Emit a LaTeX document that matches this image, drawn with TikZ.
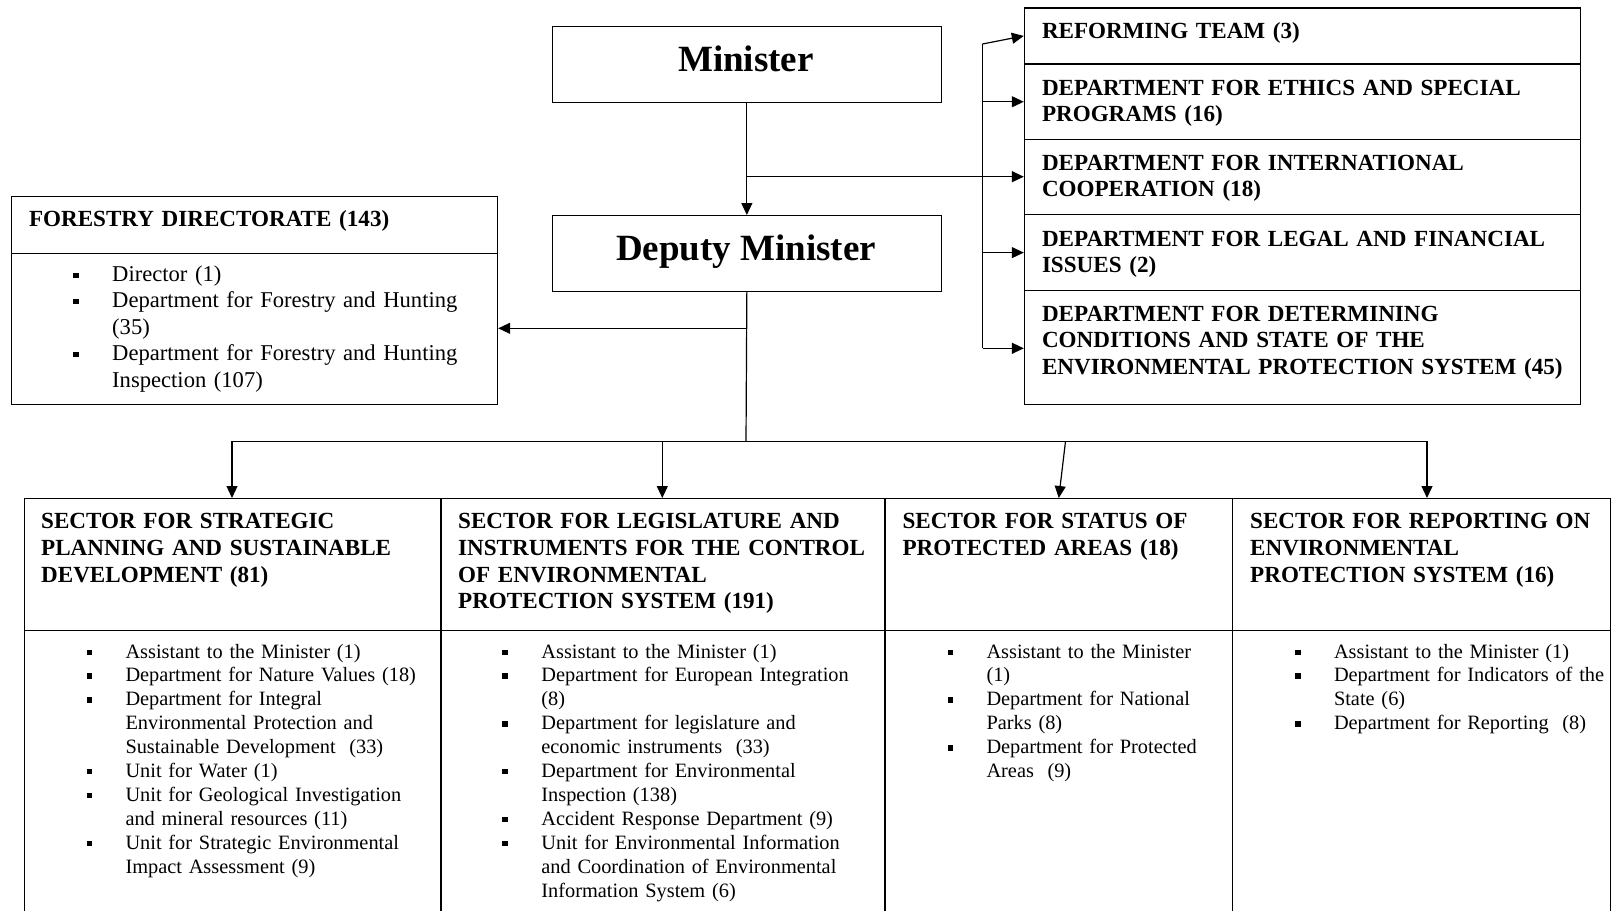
\documentclass[tikz,border=0pt]{standalone}
\usepackage{fontspec}
\setmainfont{Liberation Serif}
\usetikzlibrary{arrows.meta}
\newcommand\sqb{\raisebox{3.3pt}{\rule{5.5pt}{5.2pt}}}
\newcommand\bul{\llap{\sqb\hspace{33.5pt}}}
\newcommand\itm{\par\noindent\bul}
\begin{document}
\begin{tikzpicture}[x=1pt,y=-1pt,
  box/.style={draw, line width=1.2pt, rectangle, inner sep=0pt, anchor=north west},
  ln/.style={line width=1.2pt},
  arr/.style={line width=1.2pt, -{Triangle[length=12pt,width=11pt]}},
  hd/.style={anchor=base west, inner sep=0pt, align=left, text width=#1pt,
    font=\bfseries\fontsize{23.1}{26.7}\selectfont},
  lsbig/.style={anchor=base west, inner sep=0pt, align=left, text width=#1pt,
    font=\fontsize{22.6}{26.5}\selectfont},
  lssmall/.style={anchor=base west, inner sep=0pt, align=left, text width=#1pt,
    font=\fontsize{20.35}{23.95}\selectfont},
  big/.style={anchor=base, inner sep=0pt, font=\bfseries\fontsize{37}{44}\selectfont}
]
\useasboundingbox (0,0) rectangle (1611,910);
\clip (0,0) rectangle (1611,910);

% Minister and deputy
\node[box, minimum width=388.5pt, minimum height=75.7pt] (min) at (552,26) {};
\node[big] (mint) at (746,71) {Minister};
\node[box, minimum width=388.5pt, minimum height=75.7pt] (dep) at (552,215) {};
\node[big] (dept) at (746,260) {Deputy Minister};

% Forestry directorate
\node[box, minimum width=486.3pt, minimum height=56.7pt] (forhd) at (10.7,196) {};
\node[box, minimum width=486.3pt, minimum height=151pt] (forbd) at (10.7,252.7) {};
\node[hd=460] (forhdt) at (28.8,226.8) {FORESTRY DIRECTORATE (143)};
\node[lsbig=375] (forbdt) at (112,281) {%
\bul Director (1)
\itm Department for Forestry and Hunting\\(35)
\itm Department for Forestry and Hunting\\Inspection (107)};

% Right column
\node[box, minimum width=556.2pt, minimum height=56pt] (ref) at (1023.8,7.3) {};
\node[box, minimum width=556.2pt, minimum height=75.7pt] (eth) at (1023.8,63.3) {};
\node[box, minimum width=556.2pt, minimum height=75pt] (int) at (1023.8,139) {};
\node[box, minimum width=556.2pt, minimum height=76pt] (leg) at (1023.8,214) {};
\node[box, minimum width=556.2pt, minimum height=114pt] (det) at (1023.8,290) {};
\node[hd=530] (reft) at (1041.8,38.5) {REFORMING TEAM (3)};
\node[hd=530] (etht) at (1041.8,95) {DEPARTMENT FOR ETHICS AND SPECIAL\\PROGRAMS (16)};
\node[hd=530] (intt) at (1041.8,170) {DEPARTMENT FOR INTERNATIONAL\\COOPERATION (18)};
\node[hd=530] (legt) at (1041.8,246) {DEPARTMENT FOR LEGAL AND FINANCIAL\\ISSUES (2)};
\node[hd=530] (dett) at (1041.8,321) {DEPARTMENT FOR DETERMINING\\CONDITIONS AND STATE OF THE\\ENVIRONMENTAL PROTECTION SYSTEM (45)};

% Sector table
\node[box, minimum width=416.8pt, minimum height=132pt] (s1) at (23.5,498) {};
\node[box, minimum width=444pt, minimum height=132pt] (s2) at (440.3,498) {};
\node[box, minimum width=347.7pt, minimum height=132pt] (s3) at (884.3,498) {};
\node[box, minimum width=377.5pt, minimum height=132pt] (s4) at (1232,498) {};
\node[box, minimum width=416.8pt, minimum height=320pt] (b1) at (23.5,630) {};
\node[box, minimum width=444pt, minimum height=320pt] (b2) at (440.3,630) {};
\node[box, minimum width=347.7pt, minimum height=320pt] (b3) at (884.3,630) {};
\node[box, minimum width=377.5pt, minimum height=320pt] (b4) at (1232,630) {};

\node[hd=395] (s1t) at (41,528.8) {SECTOR FOR STRATEGIC\\PLANNING AND SUSTAINABLE\\DEVELOPMENT (81)};
\node[hd=420] (s2t) at (458,528.8) {SECTOR FOR LEGISLATURE AND\\INSTRUMENTS FOR THE CONTROL\\OF ENVIRONMENTAL\\PROTECTION SYSTEM (191)};
\node[hd=325] (s3t) at (902.4,528.8) {SECTOR FOR STATUS OF\\PROTECTED AREAS (18)};
\node[hd=355] (s4t) at (1250,528.8) {SECTOR FOR REPORTING ON\\ENVIRONMENTAL\\PROTECTION SYSTEM (16)};

\node[lssmall=320] (b1t) at (125.3,658) {%
\bul Assistant to the Minister (1)
\itm Department for Nature Values (18)
\itm Department for Integral\\Environmental Protection and\\Sustainable Development\ \ (33)
\itm Unit for Water (1)
\itm Unit for Geological Investigation\\and mineral resources (11)
\itm Unit for Strategic Environmental\\Impact Assessment (9)};
\node[lssmall=350] (b2t) at (541.2,658) {%
\bul Assistant to the Minister (1)
\itm Department for European Integration\\(8)
\itm Department for legislature and\\economic instruments\ \ (33)
\itm Department for Environmental\\Inspection (138)
\itm Accident Response Department (9)
\itm Unit for Environmental Information\\and Coordination of Environmental\\Information System (6)};
\node[lssmall=260] (b3t) at (986.3,658) {%
\bul Assistant to the Minister\\(1)
\itm Department for National\\Parks (8)
\itm Department for Protected\\Areas\ \ (9)};
\node[lssmall=300] (b4t) at (1333.8,658) {%
\bul Assistant to the Minister (1)
\itm Department for Indicators of the\\State (6)
\itm Department for Reporting\ \ (8)};

% Connectors
\draw[arr] (min.south) -- (dep.north);
\coordinate (jr) at (746,176.7);
\draw[arr] (jr) -- (jr -| int.west);
\coordinate (sp0) at (982.5,44);
\coordinate (sp1) at (982.5,348.3);
\draw[ln] (sp0) -- (sp1);
\draw[arr] (sp0) -- (ref.west);
\draw[arr] (sp0 |- eth.west) -- (eth.west);
\draw[arr] (sp0 |- leg.west) -- (leg.west);
\draw[arr] (sp1) -- (sp1 -| det.west);

\coordinate (jb) at (746,441.3);
\draw[ln] (dep.south) -- (jb);
\coordinate (jf) at (746,328.3);
\draw[arr] (jf) -- (jf -| forbd.east);

\coordinate (bl) at (232,441.3);
\coordinate (b2c) at (662.3,441.3);
\coordinate (b3c) at (1065.5,441.3);
\coordinate (br) at (1427,441.3);
\draw[ln] (bl) -- (br);
\draw[arr] (bl) -- (bl |- s1.north);
\draw[arr] (b2c) -- (b2c |- s2.north);
\draw[arr] (b3c) -- (s3.north);
\draw[arr] (br) -- (br |- s4.north);
\end{tikzpicture}
\end{document}
